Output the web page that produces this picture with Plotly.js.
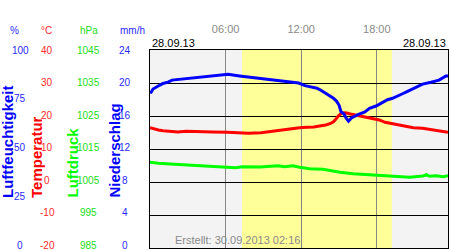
<!DOCTYPE html>
<html>
<head>
<meta charset="utf-8">
<script src="https://cdn.plot.ly/plotly-3.0.1.min.js"></script>
<style>html,body{margin:0;padding:0;background:#fff;}#chart{width:450px;height:250px;}</style>
</head>
<body>
<div id="chart"></div>
<script>
// ---- data (hours of 28.09.13) ----
const humHours = [0,0.08,0.24,0.48,0.79,1.03,1.43,1.75,3.0,4.5,5.6,6.2,7.1,8.7,10.1,11.1,11.8,12.3,12.9,13.25,13.5,13.77,14.0,14.29,14.56,14.8,15.0,15.16,15.4,15.56,15.75,15.99,16.5,17.06,17.42,17.94,18.53,18.85,19.25,19.64,20.04,20.36,20.83,21.23,21.63,22.3,22.94,23.49,23.65];
const humidity = [78.3,78.6,80.3,81.3,82.3,83.1,83.8,84.8,85.6,86.6,87.6,87.7,86.9,85.7,84.8,84.1,83.3,82.0,81.3,80.7,79.9,78.9,77.9,76.8,75.6,74.2,72.2,68.8,67.7,65.7,64.1,65.7,67.4,68.7,70.5,71.7,73.7,74.9,75.6,76.6,77.9,78.9,80.3,81.8,82.8,83.7,84.8,86.9,86.9];

const tempHours = [0,0.28,0.67,1.03,1.59,2.22,2.86,3.53,5.0,6.15,6.83,7.82,8.81,9.48,9.92,10.56,11.35,12.02,13.0,13.53,13.93,14.29,14.56,14.76,14.96,15.2,15.52,15.91,16.31,16.98,17.7,18.2,18.65,19.17,19.64,20.04,20.44,20.91,21.63,22.54,23.33,23.65];
const temperature = [16.45,16.06,15.76,15.55,15.36,15.15,15.36,15.24,15.15,15.06,14.94,14.76,14.94,15.24,15.55,15.85,16.27,16.5,16.67,16.97,17.27,17.67,18.27,19.09,20.09,20.82,21.0,20.61,20.3,19.79,19.3,18.8,18.1,17.67,17.27,16.97,16.76,16.45,16.27,15.76,15.24,15.1];

const presHours = [0,0.67,1.94,3.69,4.76,5.79,6.79,7.34,8.73,10.16,10.67,11.35,11.87,12.66,13.73,14.4,15.08,16.11,17.42,18.89,20.6,21.67,21.94,22.18,22.7,23.29,23.65];
const pressure = [1010.97,1010.67,1010.36,1010.06,1009.85,1009.64,1009.33,1009.64,1009.55,1009.94,1009.64,1009.94,1009.45,1009.03,1008.85,1008.42,1007.94,1007.52,1007.21,1006.91,1006.42,1006.82,1007.21,1006.73,1006.91,1006.61,1006.91];

const sunrise = 7.3, sunset = 19.2;
const timeTicks = [6, 12, 18];
const timeLabels = ['06:00', '12:00', '18:00'];
const humTicks = [0, 25, 50, 75, 100];
const tempTicks = [-20, -10, 0, 10, 20, 30, 40];
const presTicks = [985, 995, 1005, 1015, 1025, 1035, 1045];
const rainTicks = [0, 4, 8, 12, 16, 20, 24];
const units = ['%', '°C', 'hPa', 'mm/h'];
const axisTitles = ['Luftfeuchtigkeit', 'Temperatur', 'Luftdruck', 'Niederschlag'];
const dateLabel = '28.09.13';
const createdLabel = 'Erstellt: 30.09.2013 02:16';

// ---- layout helpers ----
const W = 450, H = 250, ML = 150, MR = 2, MT = 50, MB = 2;
const PW = W - ML - MR, PH = H - MT - MB;
const px = x => (x - ML) / PW;
const py = y => (H - MB - y) / PH;
const FONT = 'Liberation Sans, Arial, sans-serif';

const traces = [
  {x: presHours, y: pressure, yaxis: 'y3', mode: 'lines', line: {color: '#00ff00', width: 3}, hoverinfo: 'skip'},
  {x: tempHours, y: temperature, yaxis: 'y', mode: 'lines', line: {color: '#ff0000', width: 3}, hoverinfo: 'skip'},
  {x: humHours, y: humidity, yaxis: 'y2', mode: 'lines', line: {color: '#0000ff', width: 3}, hoverinfo: 'skip'}
];

const cols = [
  {ref: 'y2', ticks: humTicks, color: '#2a2aff', tcolor: '#0000ff', cx: 20, ux: 14, tx: 7.5},
  {ref: 'y', ticks: tempTicks, color: '#ff2a2a', tcolor: '#ff0000', cx: 47, ux: 46.5, tx: 36},
  {ref: 'y3', ticks: presTicks, color: '#22dd22', tcolor: '#00ff00', cx: 88.5, ux: 89, tx: 71.5},
  {ref: 'y4', ticks: rainTicks, color: '#2a2aff', tcolor: '#0000ff', cx: 125, ux: 132.5, tx: 113.5}
];

const annotations = [];
cols.forEach((c, i) => {
  const lo = c.ticks[0], hi = c.ticks[c.ticks.length - 1];
  c.ticks.forEach(v => annotations.push({
    xref: 'paper', yref: c.ref, x: px(c.cx), y: v, text: String(v), showarrow: false,
    xanchor: 'center', yanchor: 'middle', yshift: 3 * (1 - (v - lo) / (hi - lo)),
    font: {family: FONT, size: 10, color: c.color}
  }));
  annotations.push({
    xref: 'paper', yref: 'paper', x: px(c.ux), y: py(31), text: units[i], showarrow: false,
    xanchor: 'center', yanchor: 'middle', font: {family: FONT, size: 10, color: c.color}
  });
  annotations.push({
    xref: 'paper', yref: 'paper', x: px(c.tx), y: py(200), text: '<b>' + axisTitles[i] + '</b>', showarrow: false,
    textangle: -90, xanchor: 'center', yanchor: 'bottom', font: {family: FONT, size: 15, color: c.tcolor}
  });
});
annotations.push({xref: 'paper', yref: 'paper', x: 0, y: py(43), text: dateLabel, showarrow: false,
  xanchor: 'left', yanchor: 'middle', font: {family: FONT, size: 11, color: '#000'}});
annotations.push({xref: 'paper', yref: 'paper', x: 1, y: py(43), text: dateLabel, showarrow: false,
  xanchor: 'right', yanchor: 'middle', font: {family: FONT, size: 11, color: '#000'}});
annotations.push({xref: 'paper', yref: 'paper', x: px(173), y: py(240), text: createdLabel, showarrow: false,
  xanchor: 'left', yanchor: 'middle', font: {family: FONT, size: 11, color: '#8a8a8a'}});

const hiddenAxis = {overlaying: 'y', anchor: 'x', showgrid: false, zeroline: false, showticklabels: false, ticks: '', showline: false, fixedrange: true};

const layout = {
  width: W, height: H,
  margin: {l: ML, r: MR, t: MT, b: MB},
  paper_bgcolor: '#ffffff', plot_bgcolor: '#f3f3f3',
  showlegend: false,
  font: {family: FONT},
  xaxis: {
    range: [0, PW / 12.6], side: 'top', tickvals: timeTicks, ticktext: timeLabels,
    tickfont: {family: FONT, size: 11, color: '#8a8a8a'}, ticks: '', ticklabelstandoff: 12,
    showgrid: true, gridcolor: '#888888', gridwidth: 1, zeroline: false,
    showline: true, linecolor: '#000', linewidth: 1, mirror: true, fixedrange: true
  },
  yaxis: {
    range: [tempTicks[0], tempTicks[tempTicks.length - 1]], tickvals: tempTicks, showticklabels: false, ticks: '',
    showgrid: true, gridcolor: '#000000', gridwidth: 1, zeroline: false,
    showline: true, linecolor: '#000', linewidth: 1, mirror: true, fixedrange: true
  },
  yaxis2: Object.assign({range: [0, 100]}, hiddenAxis),
  yaxis3: Object.assign({range: [985, 1045]}, hiddenAxis),
  yaxis4: Object.assign({range: [0, 24]}, hiddenAxis),
  shapes: [{type: 'rect', xref: 'x', yref: 'paper', x0: sunrise, x1: sunset, y0: 0, y1: 1,
    fillcolor: '#ffff99', line: {width: 0}, layer: 'below'}],
  annotations: annotations
};

Plotly.newPlot('chart', traces, layout, {displayModeBar: false, staticPlot: true});
</script>
</body>
</html>
